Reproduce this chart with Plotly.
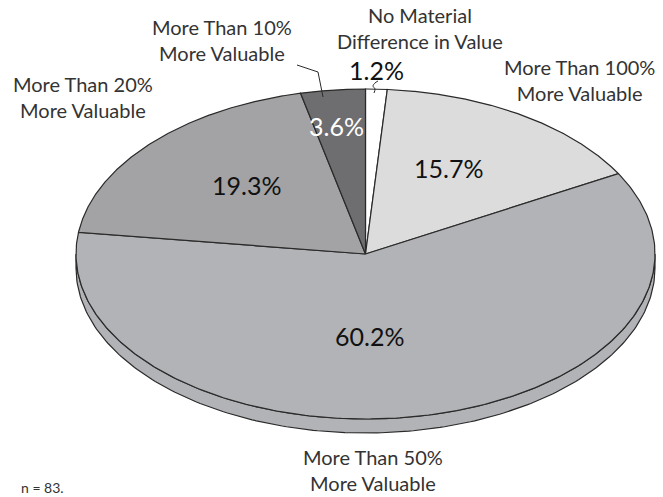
import numpy as np
import plotly.graph_objects as go

# ---- data ----
categories = ["No Material Difference in Value", "More Than 100% More Valuable",
              "More Than 50% More Valuable", "More Than 20% More Valuable",
              "More Than 10% More Valuable"]
values = [1.2, 15.7, 60.2, 19.3, 3.6]
value_labels = ["1.2%", "15.7%", "60.2%", "19.3%", "3.6%"]
cat_labels = ["No Material<br>Difference in Value", "More Than 100%<br>More Valuable",
              "More Than 50%<br>More Valuable", "More Than 20%<br>More Valuable",
              "More Than 10%<br>More Valuable"]
note = "n = 83."

# ---- style / layout ----
colors = ["#ffffff", "#dcdcdc", "#b2b3b6", "#a3a3a5", "#6e6e70"]
edge = "#2a2a2a"
W, H = 663, 497
cx, cy, rx, ry, depth = 365.5, 254, 289.5, 165, 14
FONT = "Lato"

pct_pos = [(376, 70), (448, 168), (369, 336), (246, 185), (336, 126)]
pct_col = ["#111", "#111", "#111", "#111", "#fff"]
cat_pos = [(420, 28), (579, 80), (373, 470), (83, 97), (222, 40)]


def pt(theta_deg, dy=0.0):
    t = np.radians(theta_deg)
    return cx + rx * np.sin(t), cy - ry * np.cos(t) + dy


fig = go.Figure()

total = sum(values)
bounds = np.concatenate([[0], np.cumsum(values)]) / total * 360.0

# side (visible lower half: 90..270 deg)
for i in range(len(values)):
    a, b = max(bounds[i], 90), min(bounds[i + 1], 270)
    if b <= a:
        continue
    th = np.linspace(a, b, 200)
    xt, yt = pt(th)
    xb, yb = pt(th[::-1], depth)
    xs = np.concatenate([xt, xb, xt[:1]])
    ys = np.concatenate([yt, yb, yt[:1]])
    fig.add_trace(go.Scatter(x=xs, y=ys, mode="lines", fill="toself",
                             fillcolor=colors[i], line=dict(color=edge, width=1.2),
                             hoverinfo="skip", showlegend=False))

# top faces
for i in range(len(values)):
    th = np.linspace(bounds[i], bounds[i + 1], 300)
    xe, ye = pt(th)
    xs = np.concatenate([[cx], xe, [cx]])
    ys = np.concatenate([[cy], ye, [cy]])
    fig.add_trace(go.Scatter(x=xs, y=ys, mode="lines", fill="toself",
                             fillcolor=colors[i], line=dict(color=edge, width=1.2),
                             hoverinfo="skip", showlegend=False))

# leader lines
fig.add_trace(go.Scatter(x=[297, 318, 323], y=[65, 72, 97], mode="lines",
                         line=dict(color=edge, width=1), hoverinfo="skip", showlegend=False))
fig.add_trace(go.Scatter(x=[378, 375, 373, 375, 374], y=[81, 83, 86, 89, 93], mode="lines",
                         line=dict(color=edge, width=1, shape="spline"),
                         hoverinfo="skip", showlegend=False))

ann = []
for i in range(len(values)):
    ann.append(dict(x=pct_pos[i][0], y=pct_pos[i][1], text=value_labels[i], showarrow=False,
                    font=dict(family=FONT, size=25, color=pct_col[i]), xref="x", yref="y"))
    ann.append(dict(x=cat_pos[i][0], y=cat_pos[i][1], text=cat_labels[i], showarrow=False,
                    font=dict(family=FONT, size=20, color="#333"), xref="x", yref="y"))
ann.append(dict(x=42, y=487, text=note, showarrow=False,
                font=dict(family=FONT, size=14, color="#333"), xref="x", yref="y"))

fig.update_layout(
    width=W, height=H, margin=dict(l=0, r=0, t=0, b=0),
    paper_bgcolor="white", plot_bgcolor="white",
    xaxis=dict(range=[0, W], visible=False, fixedrange=True),
    yaxis=dict(range=[H, 0], visible=False, fixedrange=True),
    annotations=ann,
)

fig.write_html("out.html")
